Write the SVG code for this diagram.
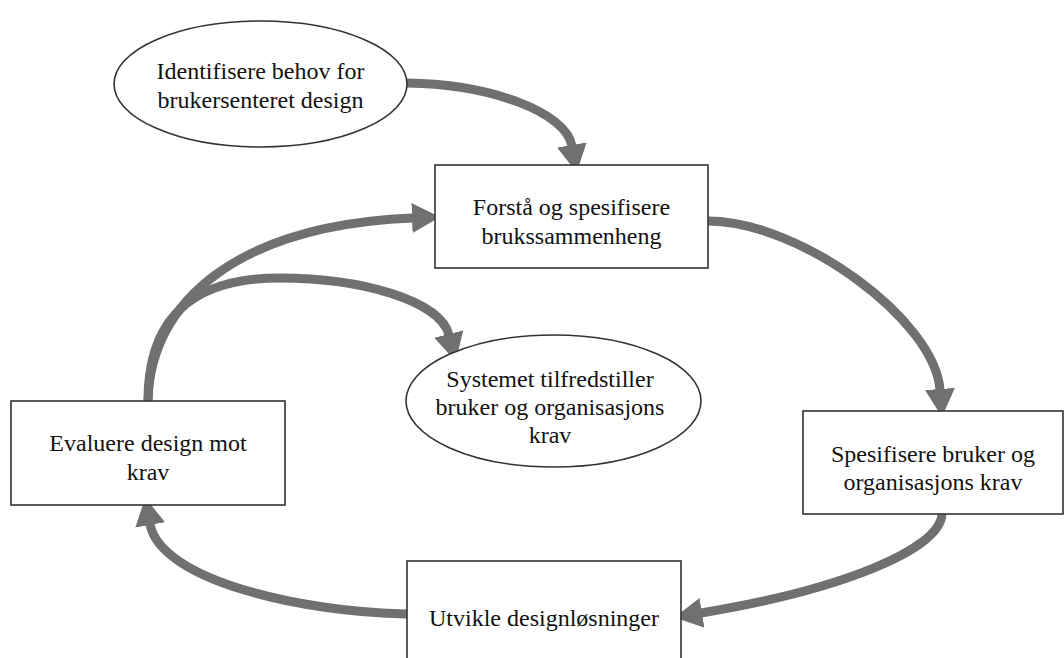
<svg xmlns="http://www.w3.org/2000/svg" width="1064" height="658" viewBox="0 0 1064 658">
<defs>
<marker id="ah" viewBox="0 0 28 30" refX="1" refY="15" markerWidth="28" markerHeight="30" markerUnits="userSpaceOnUse" orient="auto">
<polygon points="0,0 28,15 0,30" fill="#707070"/>
</marker>
<style>
.node{fill:#fff;stroke:#333;stroke-width:1.6}
.lbl{font-family:"Liberation Serif","Times New Roman",serif;font-size:24px;fill:#111;text-anchor:middle}
.conn{fill:none;stroke:#707070;stroke-width:9;marker-end:url(#ah)}
</style>
</defs>
<rect width="1064" height="658" fill="#fff"/>
<g id="connectors">
<path class="conn" d="M407,83 C490,84 566,112 572,146"/>
<path class="conn" d="M708,221 C800,221 935,320 940,390"/>
<path class="conn" d="M942,514 C940,550 840,590 701,613"/>
<path class="conn" d="M407,614 C300,612 160,580 150,524"/>
<path class="conn" d="M148,401 C150,300 240,225 413,218"/>
<path class="conn" d="M148,401 C148,320 190,278 280,278 C360,278 440,300 449,335"/>
</g>
<g id="identifisere">
<ellipse class="node" cx="260.5" cy="84" rx="146.5" ry="63"/>
<text class="lbl" x="260.5" y="79">Identifisere behov for</text>
<text class="lbl" x="260.5" y="108">brukersenteret design</text>
</g>
<g id="forsta">
<rect class="node" x="435" y="165" width="273" height="103"/>
<text class="lbl" x="571.5" y="215">Forstå og spesifisere</text>
<text class="lbl" x="571.5" y="244">brukssammenheng</text>
</g>
<g id="systemet">
<ellipse class="node" cx="553.5" cy="401" rx="147.5" ry="66"/>
<text class="lbl" x="550" y="387">Systemet tilfredstiller</text>
<text class="lbl" x="550" y="415">bruker og organisasjons</text>
<text class="lbl" x="550" y="443">krav</text>
</g>
<g id="evaluere">
<rect class="node" x="11" y="401" width="274" height="104"/>
<text class="lbl" x="148" y="451">Evaluere design mot</text>
<text class="lbl" x="148" y="480">krav</text>
</g>
<g id="spesifisere">
<rect class="node" x="803" y="411" width="260" height="103"/>
<text class="lbl" x="933" y="462">Spesifisere bruker og</text>
<text class="lbl" x="933" y="490">organisasjons krav</text>
</g>
<g id="utvikle">
<rect class="node" x="407" y="561" width="274" height="110"/>
<text class="lbl" x="544" y="626">Utvikle designløsninger</text>
</g>
</svg>
